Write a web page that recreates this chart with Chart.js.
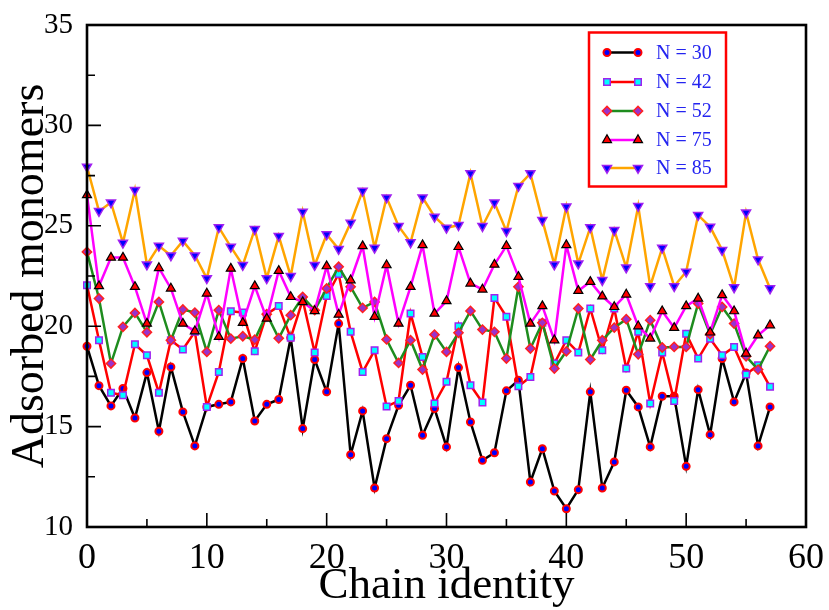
<!DOCTYPE html>
<html><head><meta charset="utf-8">
<script src="https://cdn.jsdelivr.net/npm/chart.js"></script>
<style>html,body{margin:0;padding:0;background:#fff;}#c{display:block;}</style>
</head><body>
<canvas id="c" width="829" height="610"></canvas>
<script>
const chainIds = [0,1,2,3,4,5,6,7,8,9,10,11,12,13,14,15,16,17,18,19,20,21,22,23,24,25,26,27,28,29,30,31,32,33,34,35,36,37,38,39,40,41,42,43,44,45,46,47,48,49,50,51,52,53,54,55,56,57];
const seriesLabels = ["N = 30","N = 42","N = 52","N = 75","N = 85"];
const n30 = [19.0,17.04,16.03,16.9,15.43,17.69,14.77,17.97,15.73,14.04,15.98,16.11,16.23,18.39,15.28,16.11,16.35,19.42,14.9,18.34,16.73,20.13,13.6,15.78,11.94,14.4,16.06,17.06,14.57,15.9,13.99,17.94,15.23,13.32,13.7,16.78,17.31,12.24,13.9,11.79,10.91,11.86,16.73,11.94,13.24,16.81,15.98,13.99,16.51,16.51,13.02,16.84,14.6,18.39,16.23,17.67,14.04,15.98];
const n42 = [22.04,19.3,16.69,16.56,19.1,18.55,16.69,19.3,18.84,19.72,15.98,17.72,20.75,20.68,18.75,20.6,21.0,19.42,21.3,18.69,21.5,22.6,19.72,17.72,18.8,16.0,16.28,20.63,18.47,16.15,17.23,20.0,17.06,16.2,21.41,20.47,17.01,17.47,20.17,18.14,19.3,18.69,20.88,18.8,20.88,17.89,19.72,16.15,18.69,16.28,19.63,18.39,19.38,18.55,18.97,17.6,18.06,16.98];
const n52 = [23.7,21.38,18.14,19.97,20.66,19.7,21.21,19.3,20.83,20.68,18.72,20.8,19.38,19.5,19.33,20.6,19.4,20.55,21.46,20.8,21.88,22.96,21.96,20.91,21.21,19.34,18.17,19.3,17.84,19.58,18.72,19.67,20.76,19.83,19.72,18.39,21.96,18.89,20.17,17.89,18.75,20.88,18.34,19.3,19.93,20.35,18.6,20.3,18.94,18.97,18.97,21.13,19.6,20.96,20.13,18.5,17.84,19.0];
const n75 = [26.53,22.0,23.42,23.42,21.96,20.13,22.9,21.88,20.13,19.75,21.63,19.47,22.87,20.17,22.0,20.38,22.76,21.46,21.2,20.76,22.99,20.58,22.29,23.99,20.47,23.04,20.13,21.96,24.04,20.63,21.25,23.95,22.13,21.83,23.07,24.0,22.46,20.13,21.0,19.3,24.04,21.76,22.21,21.49,20.96,21.58,20.0,19.39,20.75,19.92,21.0,21.38,19.69,21.55,20.75,18.64,19.55,20.05];
const n85 = [27.94,25.73,26.16,24.15,26.78,23.07,24.0,23.52,24.25,23.52,22.38,24.92,23.95,23.04,24.83,22.38,24.49,22.49,25.7,23.04,24.57,23.84,25.15,26.74,23.9,26.41,24.98,24.17,26.41,25.45,24.9,25.03,27.61,24.98,26.15,24.73,26.98,27.61,25.28,23.07,25.95,23.12,24.92,22.29,24.78,22.92,25.98,21.99,23.9,21.99,22.71,25.53,24.95,23.79,21.93,25.66,23.32,21.88];
const xTickValues = [0,10,20,30,40,50,60];
const yTickValues = [10,15,20,25,30,35];

const SERIF = "'Liberation Serif','Times New Roman',serif";
const toXY = arr => chainIds.map((x, i) => ({x: x, y: arr[i]}));

const styles = [
  {line:'#000000', ps:'circle',   r:3.5, bg:'#0000ff', bc:'#ff0000', bw:2,   rot:0},
  {line:'#ff0000', ps:'rect',     r:4.6, bg:'#00ffff', bc:'#a020f0', bw:1.5, rot:0},
  {line:'#1e8c1e', ps:'rectRot',  r:4.6, bg:'#9932cc', bc:'#ff2020', bw:1.5, rot:0},
  {line:'#ff00ff', ps:'triangle', r:5.2, bg:'#ff0000', bc:'#000000', bw:1.2, rot:0},
  {line:'#ffa500', ps:'triangle', r:5.2, bg:'#0000ff', bc:'#a020f0', bw:1.5, rot:180}
];
const seriesData = [n30, n42, n52, n75, n85];

const datasets = seriesData.map((arr, i) => ({
  label: seriesLabels[i],
  data: toXY(arr),
  borderColor: styles[i].line,
  borderWidth: 2.5,
  pointStyle: styles[i].ps,
  pointRadius: styles[i].r,
  pointRotation: styles[i].rot,
  pointBackgroundColor: styles[i].bg,
  pointBorderColor: styles[i].bc,
  pointBorderWidth: styles[i].bw,
  tension: 0,
  clip: false,
  order: 4 - i
}));

const framePlugin = {
  id: 'frameTicks',
  afterDatasetsDraw(chart) {
    const ctx = chart.ctx, ca = chart.chartArea;
    const xs = chart.scales.x, ys = chart.scales.y;
    ctx.save();
    ctx.strokeStyle = '#000';
    ctx.lineWidth = 1.6;
    ctx.beginPath();
    for (let v = xs.min; v <= xs.max + 1e-9; v += 5) {
      const px = xs.getPixelForValue(v);
      const len = (Math.round(v) % 10 === 0) ? 14 : 8;
      ctx.moveTo(px, ca.bottom); ctx.lineTo(px, ca.bottom - len);
    }
    for (let v = ys.min; v <= ys.max + 1e-9; v += 2.5) {
      const py = ys.getPixelForValue(v);
      const len = (Math.abs(v % 5) < 1e-6) ? 14 : 8;
      ctx.moveTo(ca.left, py); ctx.lineTo(ca.left + len, py);
    }
    ctx.stroke();
    ctx.lineWidth = 2.6;
    ctx.strokeRect(ca.left, ca.top, ca.right - ca.left, ca.bottom - ca.top);
    ctx.restore();
  },
  afterDraw(chart) {
    const ctx = chart.ctx;
    const bx = 589, by = 32.5, bw = 137, bh = 154;
    ctx.save();
    ctx.fillStyle = '#fff';
    ctx.fillRect(bx, by, bw, bh);
    ctx.strokeStyle = '#ff0000';
    ctx.lineWidth = 2.5;
    ctx.strokeRect(bx, by, bw, bh);
    const rows = [52.5, 82, 111, 140, 168];
    chart.data.datasets.forEach((ds, i) => {
      const y = rows[i];
      const st = styles[i];
      ctx.strokeStyle = ds.borderColor;
      ctx.lineWidth = 2.5;
      ctx.beginPath(); ctx.moveTo(607, y); ctx.lineTo(638, y); ctx.stroke();
      [607, 638].forEach(px => {
        ctx.fillStyle = st.bg; ctx.strokeStyle = st.bc; ctx.lineWidth = st.bw;
        Chart.helpers.drawPoint(ctx, {pointStyle: st.ps, radius: st.r, rotation: st.rot, borderWidth: st.bw}, px, y);
      });
      ctx.fillStyle = '#2424f0';
      ctx.font = '20px ' + SERIF;
      ctx.textAlign = 'left';
      ctx.textBaseline = 'middle';
      ctx.fillText(ds.label, 656, y + 1);
    });
    ctx.restore();
  }
};

new Chart(document.getElementById('c'), {
  type: 'line',
  data: { datasets: datasets },
  options: {
    responsive: false,
    animation: false,
    devicePixelRatio: 1,
    layout: { padding: { top: 25, right: 23, left: 0, bottom: 0 } },
    plugins: { legend: { display: false }, tooltip: { enabled: false } },
    scales: {
      x: {
        type: 'linear', min: 0, max: 60,
        grid: { display: false },
        border: { display: false },
        afterFit(s) { s.height = 83; },
        afterBuildTicks(s) { s.ticks = xTickValues.map(v => ({value: v})); },
        ticks: { color: '#000', font: { family: SERIF, size: 36 }, padding: 2, maxRotation: 0 },
        title: { display: true, text: 'Chain identity', color: '#000', font: { family: SERIF, size: 45, lineHeight: 1 }, padding: { top: 0, bottom: 1 } }
      },
      y: {
        type: 'linear', min: 10, max: 35,
        grid: { display: false },
        border: { display: false },
        afterFit(s) { s.width = 87; },
        afterBuildTicks(s) { s.ticks = yTickValues.map(v => ({value: v})); },
        ticks: { color: '#000', font: { family: SERIF, size: 29 }, padding: 6 },
        title: { display: true, text: 'Adsorbed monomers', color: '#000', font: { family: SERIF, size: 46, lineHeight: 1 }, padding: { top: 8, bottom: 0 } }
      }
    }
  },
  plugins: [framePlugin]
});
</script>
</body></html>
